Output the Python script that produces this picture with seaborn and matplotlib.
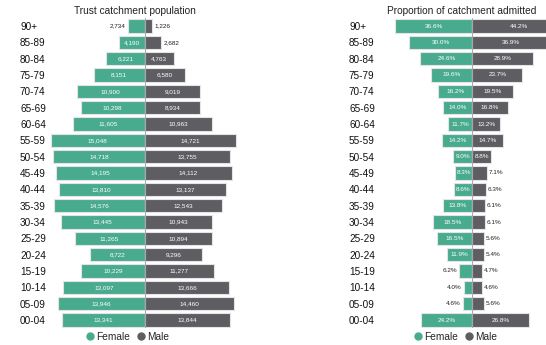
import matplotlib
matplotlib.use("Agg")
import matplotlib.pyplot as plt
import seaborn as sns
import pandas as pd
from matplotlib.lines import Line2D

ages = ["90+", "85-89", "80-84", "75-79", "70-74", "65-69", "60-64", "55-59", "50-54",
        "45-49", "40-44", "35-39", "30-34", "25-29", "20-24", "15-19", "10-14", "05-09", "00-04"]
female_pop = [2734, 4190, 6221, 8151, 10900, 10298, 11605, 15048, 14718, 14195, 13810,
              14576, 13445, 11265, 8722, 10229, 13097, 13946, 13341]
male_pop = [1226, 2682, 4763, 6580, 9019, 8934, 10963, 14721, 13755, 14112, 13137,
            12543, 10943, 10894, 9296, 11277, 13666, 14460, 13844]
female_pct = [36.6, 30.0, 24.6, 19.6, 16.2, 14.0, 11.7, 14.2, 9.0, 8.3, 8.6, 13.8, 18.5,
              16.5, 11.9, 6.2, 4.0, 4.6, 24.2]
male_pct = [44.2, 36.9, 28.9, 23.7, 19.5, 16.8, 13.2, 14.7, 8.8, 7.1, 6.3, 6.1, 6.1,
            5.6, 5.4, 4.7, 4.6, 5.6, 26.8]

GREEN = "#48ab8e"
GREY = "#5e5d62"

sns.set_theme(style="white")
plt.rcParams['font.family'] = ['Liberation Sans', 'DejaVu Sans']

W, H = 546, 345
fig = plt.figure(figsize=(W / 100, H / 100), dpi=100)

n = len(ages)
top_c, bot_c = 26.0, 320.0
row = (bot_c - top_c) / (n - 1)
ax_top = top_c - row / 2
ax_h = row * n
bottom = (H - (ax_top + ax_h)) / H
height = ax_h / H

def make_ax(x0, x1):
    return fig.add_axes([x0 / W, bottom, (x1 - x0) / W, height])

# left panel: center 144.5, 6.2 px per 1000
c1, s1 = 144.5, 6.2 / 1000
lim1 = (-16000, 16000)
ax1 = make_ax(c1 + lim1[0] * s1, c1 + lim1[1] * s1)
# right panel: center 472.3, 2.11 px per %
c2, s2 = 472.3, 2.11
lim2 = (-40, (546 - c2) / s2)
ax2 = make_ax(c2 + lim2[0] * s2, 546)

def draw(ax, fvals, mvals, lim, fmt, thresh):
    df = pd.DataFrame({"age": ages, "f": [-v for v in fvals], "m": mvals})
    sns.barplot(data=df, y="age", x="f", orient="h", color=GREEN, saturation=1,
                width=0.8, edgecolor="#e4e4e4", linewidth=0.8, ax=ax, order=ages)
    sns.barplot(data=df, y="age", x="m", orient="h", color=GREY, saturation=1,
                width=0.8, edgecolor="#e4e4e4", linewidth=0.8, ax=ax, order=ages)
    ax.set_xlim(*lim)
    ax.set_ylim(n - 0.5, -0.5)
    ax.axvline(0, color="#9a9a9a", lw=0.6, zorder=5)
    span = lim[1] - lim[0]
    for i, (fv, mv) in enumerate(zip(fvals, mvals)):
        if fv >= thresh:
            ax.text(-fv / 2, i, fmt(fv), ha="center", va="center", color="white", fontsize=4.6)
        else:
            ax.text(-fv - span * 0.012, i, fmt(fv), ha="right", va="center", color="#222222", fontsize=4.6)
        if mv >= thresh:
            ax.text(mv / 2, i, fmt(mv), ha="center", va="center", color="white", fontsize=4.6)
        else:
            ax.text(mv + span * 0.012, i, fmt(mv), ha="left", va="center", color="#222222", fontsize=4.6)
    ax.set_xlabel("")
    ax.set_ylabel("")
    ax.set_xticks([])
    for sp in ax.spines.values():
        sp.set_visible(False)
    ax.tick_params(axis="y", length=0, labelsize=7.2, colors="#111111")
    ax.set_yticks(range(n))
    ax.set_yticklabels(ages)

draw(ax1, female_pop, male_pop, lim1, lambda v: f"{v:,}", 3500)
draw(ax2, female_pct, male_pct, lim2, lambda v: f"{v:.1f}%", 7.5)

left1 = c1 + lim1[0] * s1
left2 = c2 + lim2[0] * s2
ax1.tick_params(axis="y", pad=(left1 - 20) * 0.72)
ax2.tick_params(axis="y", pad=(left2 - 349) * 0.72)
for ax in (ax1, ax2):
    for t in ax.get_yticklabels():
        t.set_horizontalalignment("left")

fig.text(134.7 / W, 1 - 11 / H, "Trust catchment population", ha="center", va="center",
         fontsize=7.3, color="#222222")
fig.text(461.8 / W, 1 - 11 / H, "Proportion of catchment admitted", ha="center", va="center",
         fontsize=7.3, color="#222222")

handles = [Line2D([], [], marker="o", ls="", color=GREEN, markersize=5),
           Line2D([], [], marker="o", ls="", color=GREY, markersize=5)]
for cx in (127 / W, 455 / W):
    fig.legend(handles, ["Female", "Male"], loc="center", bbox_to_anchor=(cx, 1 - 336.5 / H),
               ncol=2, frameon=False, fontsize=7.3, handletextpad=0.05, columnspacing=0.6,
               handlelength=1.0, borderpad=0, borderaxespad=0)

fig.savefig("out.png", dpi=100)
